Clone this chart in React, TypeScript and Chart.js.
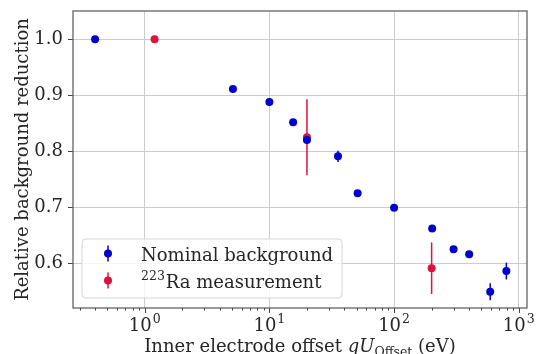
import React, { useEffect, useRef } from 'react';
import { Chart, registerables } from 'chart.js';

Chart.register(...registerables);

// ---- data ----
const nominalX = [0.4, 5.1, 10, 15.5, 20, 35.5, 51, 100, 202, 300, 400, 590, 795];
const nominalY = [1.0, 0.911, 0.888, 0.852, 0.820, 0.791, 0.725, 0.699, 0.662, 0.625, 0.616, 0.549, 0.586];
const nominalErr = [0.002, 0.002, 0.002, 0.003, 0.004, 0.010, 0.003, 0.003, 0.004, 0.004, 0.004, 0.015, 0.015];
const raX = [1.2, 20, 200];
const raY = [1.0, 0.825, 0.591];
const raErr = [0, 0.068, 0.046];
const yTicks = [0.6, 0.7, 0.8, 0.9, 1.0];
const xMajorExps = [0, 1, 2, 3];
const nominalLabel = 'Nominal background';
const raSup = '223';
const raLabel = 'Ra measurement';
const yTitle = 'Relative background reduction';
const xTitleParts = ['Inner electrode offset ', 'qU', 'Offset', ' (eV)'];

const BLUE = '#0000cc';
const RED = '#dc143c';
const TEXT = '#262626';
const FONT = "'DejaVu Serif'";
const errs = [nominalErr, raErr];
const colors = [BLUE, RED];

const errorBarPlugin = {
  id: 'errorBars',
  beforeDatasetDraw(chart: any, args: any) {
    const i = args.index;
    const ds = chart.data.datasets[i];
    const ctx = chart.ctx;
    const xs = chart.scales.x;
    const ys = chart.scales.y;
    ctx.save();
    ctx.strokeStyle = colors[i];
    ctx.lineWidth = 1.5;
    ds.data.forEach((p: any, j: number) => {
      const e = errs[i][j];
      if (!e) return;
      const px = xs.getPixelForValue(p.x);
      ctx.beginPath();
      ctx.moveTo(px, ys.getPixelForValue(p.y + e));
      ctx.lineTo(px, ys.getPixelForValue(p.y - e));
      ctx.stroke();
    });
    ctx.restore();
  },
};

const decorPlugin = {
  id: 'decor',
  afterDraw(chart: any) {
    const ctx = chart.ctx;
    const { left, right, top, bottom } = chart.chartArea;
    const xs = chart.scales.x;
    ctx.save();
    // frame
    ctx.strokeStyle = '#555';
    ctx.lineWidth = 1.2;
    ctx.strokeRect(left, top, right - left, bottom - top);
    // x tick marks
    ctx.strokeStyle = '#444';
    ctx.lineWidth = 1;
    xs.ticks.forEach((t: any) => {
      const v = t.value;
      const lg = Math.log10(v);
      const major = Math.abs(lg - Math.round(lg)) < 1e-9;
      const px = Math.round(xs.getPixelForValue(v)) + 0.5;
      ctx.beginPath();
      ctx.moveTo(px, bottom);
      ctx.lineTo(px, bottom + (major ? 5 : 2.5));
      ctx.stroke();
    });
    // x tick labels
    ctx.fillStyle = TEXT;
    ctx.textBaseline = 'alphabetic';
    xMajorExps.forEach((e) => {
      const px = xs.getPixelForValue(Math.pow(10, e));
      ctx.font = `18px ${FONT}`;
      const w1 = ctx.measureText('10').width;
      ctx.font = `12.5px ${FONT}`;
      const w2 = ctx.measureText(String(e)).width;
      const x0 = px - (w1 + w2 + 1) / 2;
      ctx.textAlign = 'left';
      ctx.font = `18px ${FONT}`;
      ctx.fillText('10', x0, 331);
      ctx.font = `12.5px ${FONT}`;
      ctx.fillText(String(e), x0 + w1 + 1, 323);
    });
    // x title
    const [a, b, c, d] = xTitleParts;
    ctx.font = `18px ${FONT}`;
    const wa = ctx.measureText(a).width;
    const wd = ctx.measureText(d).width;
    ctx.font = `italic 18px ${FONT}`;
    const wb = ctx.measureText(b).width;
    ctx.font = `12.5px ${FONT}`;
    const wc = ctx.measureText(c).width;
    let x = (left + right) / 2 - (wa + wb + wc + wd) / 2;
    const by = 352;
    ctx.font = `18px ${FONT}`;
    ctx.fillText(a, x, by); x += wa;
    ctx.font = `italic 18px ${FONT}`;
    ctx.fillText(b, x, by); x += wb;
    ctx.font = `12.5px ${FONT}`;
    ctx.fillText(c, x, by + 4); x += wc;
    ctx.font = `18px ${FONT}`;
    ctx.fillText(d, x, by);
    // legend
    const lx = 82, ly = 239, lw = 260, lh = 59, r = 4;
    ctx.beginPath();
    ctx.moveTo(lx + r, ly);
    ctx.arcTo(lx + lw, ly, lx + lw, ly + lh, r);
    ctx.arcTo(lx + lw, ly + lh, lx, ly + lh, r);
    ctx.arcTo(lx, ly + lh, lx, ly, r);
    ctx.arcTo(lx, ly, lx + lw, ly, r);
    ctx.closePath();
    ctx.fillStyle = 'rgba(255,255,255,0.8)';
    ctx.fill();
    ctx.strokeStyle = '#d6d6d6';
    ctx.lineWidth = 1;
    ctx.stroke();
    const rows = [253.5, 280.5];
    rows.forEach((cy, i) => {
      ctx.strokeStyle = colors[i];
      ctx.lineWidth = 1.5;
      ctx.beginPath();
      ctx.moveTo(108, cy - 8);
      ctx.lineTo(108, cy + 8);
      ctx.stroke();
      ctx.fillStyle = colors[i];
      ctx.beginPath();
      ctx.arc(108, cy, 4, 0, Math.PI * 2);
      ctx.fill();
    });
    ctx.fillStyle = TEXT;
    ctx.textAlign = 'left';
    ctx.font = `18px ${FONT}`;
    ctx.fillText(nominalLabel, 141, 260.5);
    ctx.font = `12.5px ${FONT}`;
    ctx.fillText(raSup, 141, 280);
    const ws = ctx.measureText(raSup).width;
    ctx.font = `18px ${FONT}`;
    ctx.fillText(raLabel, 141 + ws + 1, 287.5);
    ctx.restore();
  },
};

function isPow10(v: number) {
  const lg = Math.log10(v);
  return Math.abs(lg - Math.round(lg)) < 1e-9;
}

export default function App() {
  const ref = useRef<HTMLCanvasElement>(null);
  useEffect(() => {
    if (!ref.current) return;
    const chart = new Chart(ref.current, {
      type: 'scatter',
      data: {
        datasets: [
          {
            label: nominalLabel,
            data: nominalX.map((x, i) => ({ x, y: nominalY[i] })),
            backgroundColor: BLUE,
            borderColor: BLUE,
            pointRadius: 4,
            pointBorderWidth: 0,
          },
          {
            label: raLabel,
            data: raX.map((x, i) => ({ x, y: raY[i] })),
            backgroundColor: RED,
            borderColor: RED,
            pointRadius: 4,
            pointBorderWidth: 0,
          },
        ],
      },
      options: {
        responsive: false,
        animation: false,
        devicePixelRatio: 1,
        layout: { padding: { top: 11, right: 12, left: 0, bottom: 0 } },
        plugins: { legend: { display: false }, tooltip: { enabled: false } },
        scales: {
          x: {
            type: 'logarithmic',
            min: 0.266,
            max: 1164,
            afterBuildTicks: (s: any) => {
              const t: any[] = [];
              for (let e = -1; e <= 3; e++) {
                for (let m = 1; m <= 9; m++) {
                  const v = m * Math.pow(10, e);
                  if (v >= s.min && v <= s.max) t.push({ value: v });
                }
              }
              s.ticks = t;
            },
            afterFit: (s: any) => { s.height = 46; s.paddingLeft = 0; s.paddingRight = 0; },
            ticks: { display: false },
            border: { display: false },
            grid: {
              drawTicks: false,
              lineWidth: 1,
              color: (c: any) => (c.tick && isPow10(c.tick.value) ? '#cccccc' : 'rgba(0,0,0,0)'),
            },
          },
          y: {
            min: 0.52,
            max: 1.0505,
            afterBuildTicks: (s: any) => { s.ticks = yTicks.map((v) => ({ value: v })); },
            afterFit: (s: any) => { s.width = 73; s.paddingTop = 0; s.paddingBottom = 0; },
            border: { display: false },
            grid: { color: '#cccccc', lineWidth: 1, drawTicks: true, tickLength: 5, tickColor: '#444' },
            ticks: {
              padding: 5,
              color: TEXT,
              font: { family: 'DejaVu Serif', size: 18 },
              callback: (v: any) => Number(v).toFixed(1),
            },
            title: {
              display: true,
              text: yTitle,
              color: TEXT,
              font: { family: 'DejaVu Serif', size: 18 },
              padding: { top: 13, bottom: 0 },
            },
          },
        },
      },
      plugins: [errorBarPlugin, decorPlugin],
    } as any);
    return () => chart.destroy();
  }, []);
  return (
    <div style={{ position: 'fixed', left: 0, top: 0, width: 539, height: 354, background: '#fff' }}>
      <canvas ref={ref} width={539} height={354} />
    </div>
  );
}
